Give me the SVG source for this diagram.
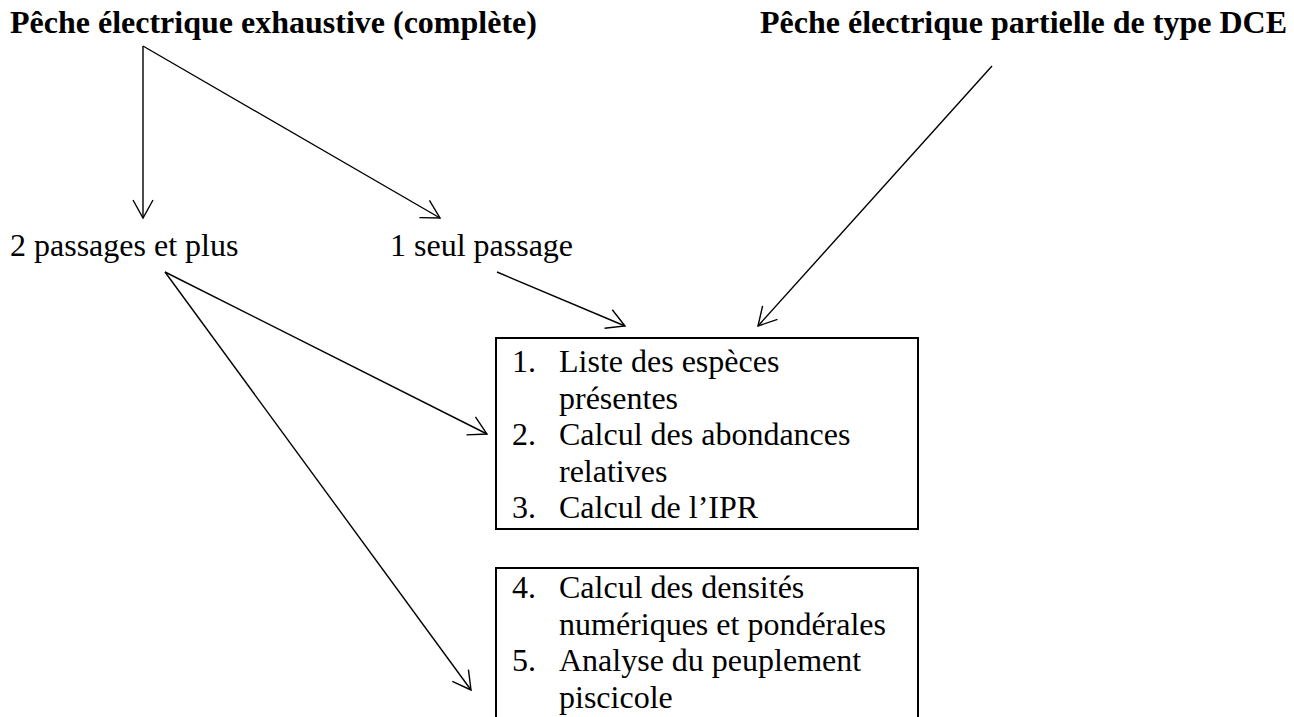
<svg xmlns="http://www.w3.org/2000/svg" width="1294" height="717" viewBox="0 0 1294 717">
<style>
.t{font-family:"Liberation Serif","Times New Roman",serif;font-size:32px;fill:#000}
.b{font-weight:bold}
.box{fill:none;stroke:#000;stroke-width:2}
.c{stroke:#000;stroke-width:1.4;fill:none;marker-end:url(#ah)}
</style>
<defs>
<marker id="ah" markerUnits="userSpaceOnUse" markerWidth="24" markerHeight="24" refX="18" refY="10" orient="auto" overflow="visible">
<path d="M0,0 L18,10 L0,20" fill="none" stroke="#000" stroke-width="1.4"/>
</marker>
</defs>
<rect width="1294" height="717" fill="#fff"/>
<g id="connectors">
<line class="c" x1="143" y1="46" x2="143" y2="218"/>
<line class="c" x1="143" y1="46" x2="440" y2="218"/>
<line class="c" x1="992" y1="66" x2="758" y2="326"/>
<line class="c" x1="497" y1="272" x2="625" y2="326"/>
<line class="c" x1="165" y1="272" x2="487" y2="434"/>
<line class="c" x1="165" y1="272" x2="471" y2="690"/>
</g>
<g id="title-exhaustive"><text class="t b" x="10" y="33">Pêche électrique exhaustive (complète)</text></g>
<g id="title-partielle"><text class="t b" x="1287" y="33" text-anchor="end">Pêche électrique partielle de type DCE</text></g>
<g id="deux-passages"><text class="t" x="10" y="256">2 passages et plus</text></g>
<g id="un-passage"><text class="t" x="390" y="256">1 seul passage</text></g>
<g id="box1">
<rect class="box" x="496" y="338" width="422" height="191"/>
<text class="t" x="512" y="372">1.</text><text class="t" x="559" y="372">Liste des espèces</text>
<text class="t" x="559" y="408.5">présentes</text>
<text class="t" x="512" y="445">2.</text><text class="t" x="559" y="445">Calcul des abondances</text>
<text class="t" x="559" y="481.5">relatives</text>
<text class="t" x="512" y="518">3.</text><text class="t" x="559" y="518">Calcul de l’IPR</text>
</g>
<g id="box2">
<rect class="box" x="496" y="568" width="422" height="170"/>
<text class="t" x="512" y="598">4.</text><text class="t" x="559" y="598">Calcul des densités</text>
<text class="t" x="559" y="634.5">numériques et pondérales</text>
<text class="t" x="512" y="671">5.</text><text class="t" x="559" y="671">Analyse du peuplement</text>
<text class="t" x="559" y="707.5">piscicole</text>
</g>
</svg>
